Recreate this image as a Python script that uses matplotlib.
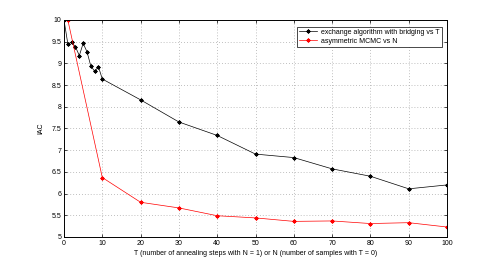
import matplotlib
matplotlib.use("Agg")
import matplotlib.pyplot as plt

# exchange algorithm with bridging vs T
t_vals = [0, 1, 2, 3, 4, 5, 6, 7, 8, 9, 10, 20, 30, 40, 50, 60, 70, 80, 90, 100]
iac_exchange = [10.0, 9.45, 9.49, 9.38, 9.18, 9.46, 9.27, 8.94, 8.82, 8.92, 8.64,
                8.16, 7.65, 7.34, 6.91, 6.83, 6.57, 6.40, 6.11, 6.20]

# asymmetric MCMC vs N
n_vals = [1, 10, 20, 30, 40, 50, 60, 70, 80, 90, 100]
iac_mcmc = [10.0, 6.37, 5.80, 5.67, 5.49, 5.44, 5.36, 5.37, 5.31, 5.33, 5.23]

plt.rcParams["font.family"] = "Liberation Sans"
plt.rcParams["font.size"] = 5

fig = plt.figure(figsize=(4.94, 2.66), dpi=100)
ax = fig.add_axes([64 / 494, 1 - 237 / 266, (447 - 64) / 494, (237 - 20) / 266])

star = (8, 2, 0)  # matlab-style asterisk
ax.plot(t_vals, iac_exchange, color="black", lw=0.5, marker=star, ms=3, mew=0.5,
        label="exchange algorithm with bridging vs T")
ax.plot(n_vals, iac_mcmc, color="red", lw=0.5, marker=star, ms=3, mew=0.5,
        label="asymmetric MCMC vs N")

ax.set_xlim(0, 100)
ax.set_ylim(5, 10)
ax.set_xticks(range(0, 101, 10))
ax.set_yticks([5 + 0.5 * i for i in range(11)])
ax.set_yticklabels(["5", "5.5", "6", "6.5", "7", "7.5", "8", "8.5", "9", "9.5", "10"])
ax.tick_params(direction="in", length=2, width=0.5, top=True, right=True, pad=2)
ax.grid(True, linestyle=(0, (1, 2.5)), color="#aaaaaa", lw=0.6)
for s in ax.spines.values():
    s.set_linewidth(0.7)

ax.set_xlabel("T (number of annealing steps with N = 1) or N (number of samples with T = 0)", labelpad=2)
ax.set_ylabel("IAC", labelpad=5)

leg = ax.legend(loc="upper right", fancybox=False, edgecolor="black", framealpha=1,
                borderpad=0.3, handlelength=2.6, handletextpad=0.5, labelspacing=0.25,
                bbox_to_anchor=(0.995, 0.985))
leg.get_frame().set_linewidth(0.5)

fig.savefig("out.png", dpi=100)
